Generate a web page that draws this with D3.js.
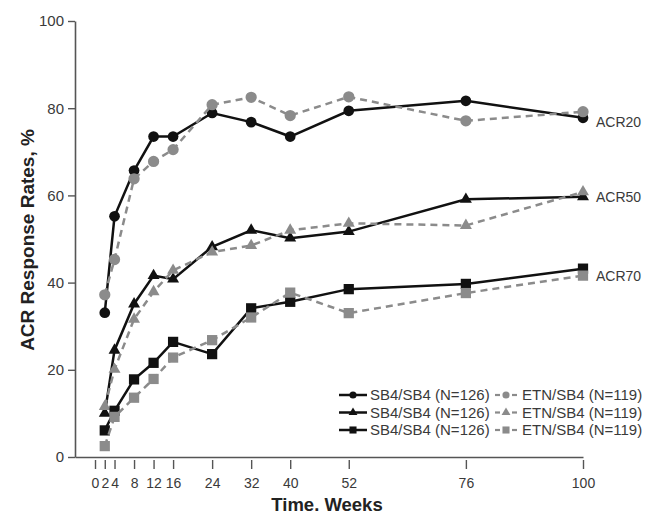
<!DOCTYPE html>
<html>
<head>
<meta charset="utf-8">
<script src="https://cdn.jsdelivr.net/npm/d3@7"></script>
<style>
  html, body { margin: 0; padding: 0; background: #fff; }
  svg { display: block; font-family: "Liberation Sans", Arial, sans-serif; }
</style>
</head>
<body>
<svg id="chart" width="646" height="515"></svg>
<script>
// ---- data ----
const weeks = [2, 4, 8, 12, 16, 24, 32, 40, 52, 76, 100];
const acr20_sb4 = [33.1, 55.2, 65.7, 73.5, 73.5, 78.9, 76.8, 73.5, 79.4, 81.7, 77.8];
const acr20_etn = [37.2, 45.3, 63.8, 67.8, 70.5, 80.8, 82.5, 78.3, 82.6, 77.1, 79.2];
const acr50_sb4 = [10.0, 24.5, 35.1, 41.6, 40.8, 48.2, 52.0, 50.2, 51.7, 59.1, 59.7];
const acr50_etn = [11.6, 20.1, 31.6, 37.9, 42.8, 47.0, 48.5, 52.0, 53.6, 53.1, 60.8];
const acr70_sb4 = [6.1, 10.6, 17.8, 21.6, 26.4, 23.6, 34.1, 35.6, 38.5, 39.7, 43.2];
const acr70_etn = [2.5, 9.2, 13.6, 17.9, 22.8, 26.8, 32.0, 37.7, 33.0, 37.6, 41.6];
const xTicks = [0, 2, 4, 8, 12, 16, 24, 32, 40, 52, 76, 100];
const yTicks = [0, 20, 40, 60, 80, 100];
const endLabels = ["ACR20", "ACR50", "ACR70"];
const endLabelValues = [76.9, 59.7, 41.4];
const legendLabels = ["SB4/SB4 (N=126)", "ETN/SB4 (N=119)"];

// ---- layout ----
const svg = d3.select("#chart");
const x = d3.scaleLinear().domain([-4.1, 100]).range([75, 583]);
const y = d3.scaleLinear().domain([0, 100]).range([457, 21]);
const axisColor = "#555";
const textColor = "#3a3a3a";
const black = "#111";
const gray = "#8b8b8b";

// y axis
const yAxis = svg.append("g").attr("transform", "translate(75,0)")
  .call(d3.axisLeft(y).tickValues(yTicks).tickSize(7).tickSizeOuter(0).tickPadding(4));
yAxis.select(".domain").attr("stroke", axisColor).attr("stroke-width", 1.6);
yAxis.selectAll(".tick line").attr("stroke", axisColor).attr("stroke-width", 1.4);
yAxis.selectAll(".tick text").attr("fill", textColor).style("font-size", "15px")
  .style("font-family", "'Liberation Sans', Arial, sans-serif");

// x axis
const xAxis = svg.append("g").attr("transform", "translate(0,457)")
  .call(d3.axisBottom(x).tickValues(xTicks).tickSize(12).tickSizeOuter(0).tickPadding(9));
xAxis.select(".domain").attr("stroke", axisColor).attr("stroke-width", 1.6);
xAxis.selectAll(".tick line").attr("stroke", axisColor).attr("stroke-width", 1.4).attr("y1", 3);
xAxis.selectAll(".tick text").attr("fill", textColor).style("font-size", "14px")
  .style("font-family", "'Liberation Sans', Arial, sans-serif");

// axis titles
svg.append("text").attr("x", 327).attr("y", 511).attr("text-anchor", "middle")
  .attr("fill", "#222").style("font-size", "18.5px").style("font-weight", "bold")
  .text("Time. Weeks");
svg.append("text").attr("transform", "translate(34,240) rotate(-90)").attr("text-anchor", "middle")
  .attr("fill", "#222").style("font-size", "19px").style("font-weight", "bold")
  .text("ACR Response Rates, %");

// series
const series = [
  { vals: acr20_sb4, shape: d3.symbolCircle, size: 90, color: black, dash: null },
  { vals: acr20_etn, shape: d3.symbolCircle, size: 100, color: gray, dash: "7,5" },
  { vals: acr50_sb4, shape: d3.symbolTriangle, size: 62, color: black, dash: null },
  { vals: acr50_etn, shape: d3.symbolTriangle, size: 62, color: gray, dash: "7,5" },
  { vals: acr70_sb4, shape: d3.symbolSquare, size: 105, color: black, dash: null },
  { vals: acr70_etn, shape: d3.symbolSquare, size: 105, color: gray, dash: "7,5" }
];
const line = d3.line().x(d => x(d[0])).y(d => y(d[1]));
series.forEach(s => {
  const pts = weeks.map((w, i) => [w, s.vals[i]]);
  const g = svg.append("g");
  g.append("path").datum(pts).attr("d", line).attr("fill", "none")
    .attr("stroke", s.color).attr("stroke-width", 2.5)
    .attr("stroke-dasharray", s.dash);
  g.selectAll("path.m").data(pts).enter().append("path").attr("class", "m")
    .attr("transform", d => `translate(${x(d[0])},${y(d[1])})`)
    .attr("d", d3.symbol().type(s.shape).size(s.size))
    .attr("fill", s.color);
});

// end labels
svg.selectAll("text.end").data(endLabels).enter().append("text").attr("class", "end")
  .attr("x", x(100) + 13).attr("y", (d, i) => y(endLabelValues[i]))
  .attr("dy", "0.35em").attr("fill", textColor).style("font-size", "14px")
  .text(d => d);

// legend
const legendShapes = [d3.symbolCircle, d3.symbolTriangle, d3.symbolSquare];
const legendSizes = [40, 34, 50];
const rowY = [395, 412.5, 430];
legendShapes.forEach((shape, i) => {
  const g = svg.append("g").attr("transform", `translate(0,${rowY[i]})`);
  // black entry
  g.append("line").attr("x1", 339).attr("x2", 367).attr("y1", 0).attr("y2", 0)
    .attr("stroke", black).attr("stroke-width", 2.5);
  g.append("path").attr("transform", "translate(353,0)")
    .attr("d", d3.symbol().type(shape).size(legendSizes[i])).attr("fill", black);
  g.append("text").attr("x", 370).attr("y", 0).attr("dy", "0.35em")
    .attr("fill", textColor).style("font-size", "15px").text(legendLabels[0]);
  // gray entry: "- marker -"
  [[495, 500], [512, 517]].forEach(seg => {
    g.append("line").attr("x1", seg[0]).attr("x2", seg[1]).attr("y1", 0).attr("y2", 0)
      .attr("stroke", gray).attr("stroke-width", 2.2);
  });
  g.append("path").attr("transform", "translate(506,0)")
    .attr("d", d3.symbol().type(shape).size(legendSizes[i])).attr("fill", gray);
  g.append("text").attr("x", 522).attr("y", 0).attr("dy", "0.35em")
    .attr("fill", textColor).style("font-size", "15px").text(legendLabels[1]);
});
</script>
</body>
</html>
